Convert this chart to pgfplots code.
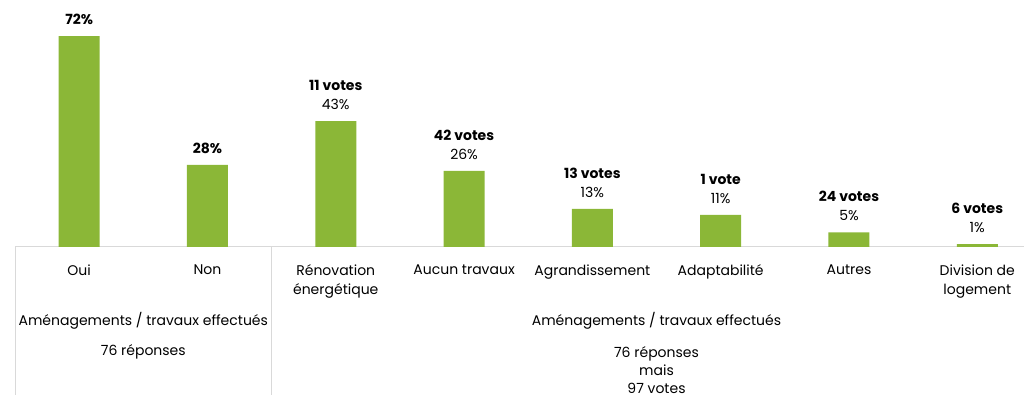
\documentclass[border=0pt]{standalone}
\usepackage{pgfplots}
\pgfplotsset{compat=1.18}
\usepackage{fontspec}
\setmainfont{Poppins}
\definecolor{barg}{HTML}{8BB737}
\definecolor{ax}{HTML}{D9D9D9}
\begin{document}
\begin{tikzpicture}
\useasboundingbox (0,0) rectangle (1024pt,395pt);
\clip (0,0) rectangle (1024pt,395pt);
\begin{axis}[
  at={(15pt,148pt)}, anchor=south west,
  x=128.3pt, y=2.93pt,
  xmin=-0.5, xmax=7.5, ymin=0, ymax=80,
  axis x line=bottom, axis y line=none,
  x axis line style={draw=ax, line width=1pt, -},
  xtick={0,...,7}, xtick style={draw=none},
  xticklabels={Oui,Non,{Rénovation\\énergétique},Aucun travaux,Agrandissement,Adaptabilité,Autres,{Division de\\logement}},
  xticklabel style={align=center, font=\fontsize{14}{19}\selectfont, yshift=-10pt},
  ybar, bar width=41pt,
  clip=false,
  nodes near coords, point meta=explicit symbolic,
  every node near coord/.append style={align=center, font=\fontsize{14}{19}\selectfont, anchor=south, yshift=8pt, black},
]
\addplot[fill=barg, draw=none] coordinates {
 (0,72) [\textbf{72\%}]
 (1,28) [\textbf{28\%}]
 (2,43) [\textbf{11 votes}\\43\%]
 (3,26) [\textbf{42 votes}\\26\%]
 (4,13) [\textbf{13 votes}\\13\%]
 (5,11) [\textbf{1 vote}\\11\%]
 (6,5)  [\textbf{24 votes}\\5\%]
 (7,1)  [\textbf{6 votes}\\1\%]
};
\draw[ax, line width=1pt] (axis cs:-0.5,0) -- ([yshift=-160pt]axis cs:-0.5,0);
\draw[ax, line width=1pt] (axis cs:1.5,0) -- ([yshift=-160pt]axis cs:1.5,0);
\node[font=\fontsize{14}{19}\selectfont] at ([yshift=-74pt]axis cs:0.5,0) {Aménagements / travaux effectués};
\node[font=\fontsize{14}{19}\selectfont] at ([yshift=-105pt]axis cs:0.5,0) {76 réponses};
\node[font=\fontsize{14}{19}\selectfont] at ([yshift=-74pt]axis cs:4.5,0) {Aménagements / travaux effectués};
\node[font=\fontsize{14}{18}\selectfont, align=center, anchor=north] at ([yshift=-96pt]axis cs:4.5,0) {76 réponses\\mais\\97 votes};
\end{axis}
\end{tikzpicture}
\end{document}
